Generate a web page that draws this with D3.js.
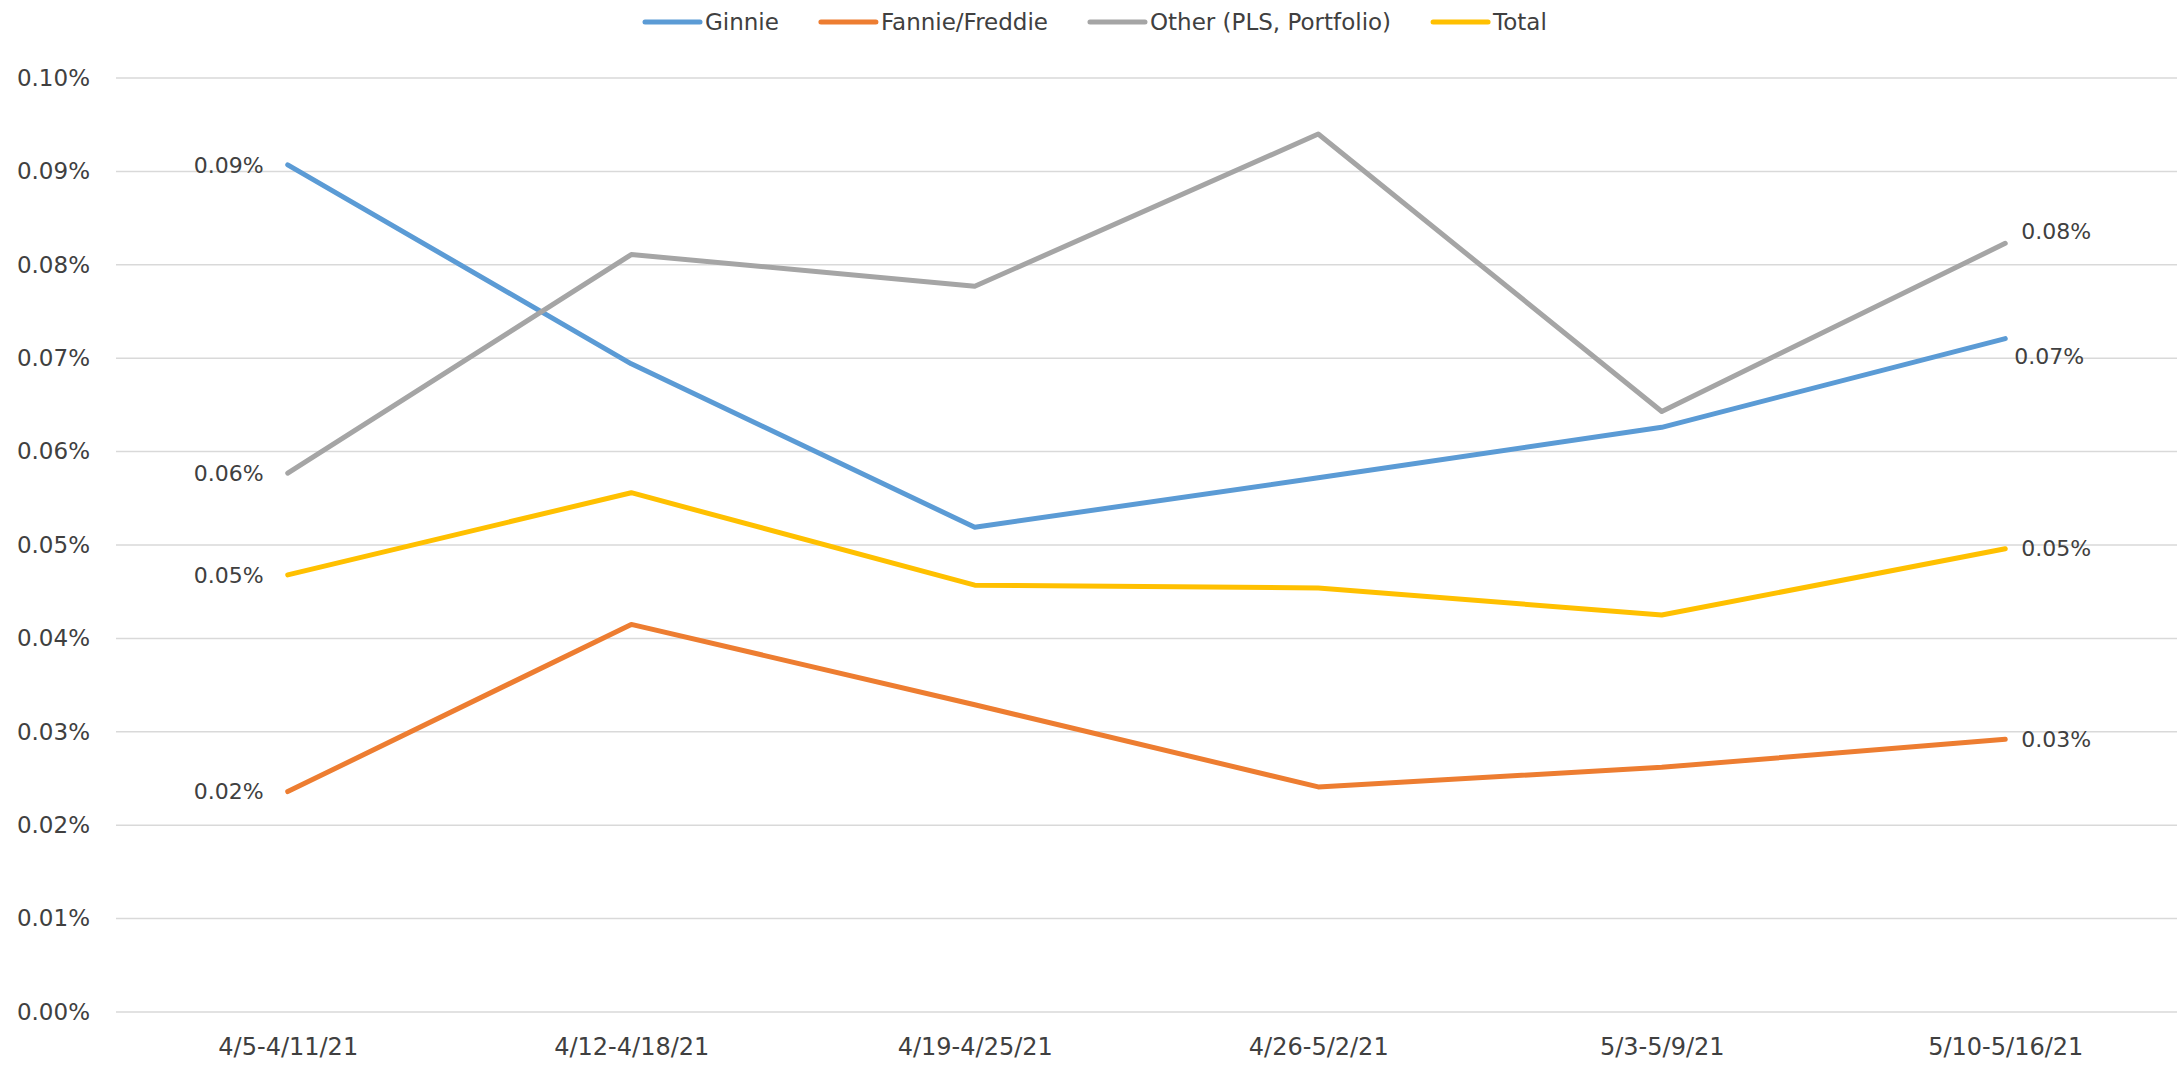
<!DOCTYPE html>
<html>
<head>
<meta charset="utf-8">
<script src="https://cdn.jsdelivr.net/npm/d3@7"></script>
<style>
    html, body { margin: 0; padding: 0; background: #fff; }
    svg text { font-family: "DejaVu Sans", sans-serif; fill: #404040; }
    .grid line { stroke: #d9d9d9; stroke-width: 1.5; }
    .series { fill: none; stroke-width: 5; stroke-linejoin: round; stroke-linecap: round; }
</style>
</head>
<body>
<div id="chart"></div>
<script>
// weeks on the x axis
const weeks = ['4/5-4/11/21', '4/12-4/18/21', '4/19-4/25/21', '4/26-5/2/21', '5/3-5/9/21', '5/10-5/16/21'];

// values in percent
const ginnie = [0.0907, 0.0694, 0.0519, 0.0572, 0.0626, 0.0721];
const fannieFreddie = [0.0236, 0.0415, 0.0329, 0.0241, 0.0262, 0.0292];
const other = [0.0577, 0.0811, 0.0777, 0.0940, 0.0643, 0.0823];
const total = [0.0468, 0.0556, 0.0457, 0.0454, 0.0425, 0.0496];

const yTicks = [0, 0.01, 0.02, 0.03, 0.04, 0.05, 0.06, 0.07, 0.08, 0.09, 0.10];

const seriesNames = ['Ginnie', 'Fannie/Freddie', 'Other (PLS, Portfolio)', 'Total'];
const seriesValues = [ginnie, fannieFreddie, other, total];
const colors = ['#5b9bd5', '#ed7d31', '#a5a5a5', '#ffc000'];

const width = 2178;
const height = 1065;
const margin = { top: 78, right: 1, bottom: 53, left: 116 };

const svg = d3.select('#chart')
    .append('svg')
    .attr('width', width)
    .attr('height', height);

const xScale = d3.scalePoint()
    .domain(weeks)
    .range([margin.left, width - margin.right])
    .padding(0.5);

const yScale = d3.scaleLinear()
    .domain([0, 0.10])
    .range([height - margin.bottom, margin.top]);

// gridlines
svg.append('g')
    .attr('class', 'grid')
    .selectAll('line')
    .data(yTicks)
    .enter()
    .append('line')
    .attr('x1', margin.left)
    .attr('x2', width - margin.right)
    .attr('y1', d => yScale(d))
    .attr('y2', d => yScale(d));

const fmt = d => d3.format('.2f')(d) + '%';

// y axis
const yAxis = d3.axisLeft(yScale)
    .tickValues(yTicks)
    .tickSize(0)
    .tickPadding(26)
    .tickFormat(fmt);

svg.append('g')
    .attr('transform', 'translate(' + margin.left + ',0)')
    .call(yAxis)
    .call(g => g.select('.domain').remove())
    .selectAll('text')
    .style('font-family', '"DejaVu Sans", sans-serif')
    .style('font-size', '23px')
    .attr('fill', '#404040');

// x axis
const xAxis = d3.axisBottom(xScale).tickSize(0).tickPadding(26);

svg.append('g')
    .attr('transform', 'translate(0,' + (height - margin.bottom) + ')')
    .call(xAxis)
    .call(g => g.select('.domain').remove())
    .selectAll('text')
    .style('font-family', '"DejaVu Sans", sans-serif')
    .style('font-size', '24px')
    .attr('fill', '#404040');

// lines
const line = d3.line()
    .x((d, i) => xScale(weeks[i]))
    .y(d => yScale(d));

svg.selectAll('.series')
    .data(seriesValues)
    .enter()
    .append('path')
    .attr('class', 'series')
    .attr('stroke', (d, i) => colors[i])
    .attr('d', d => line(d));

// data labels at the first and last week
const lastIdx = weeks.length - 1;
const rightShift = [18, 0, -12, 0];

seriesValues.forEach((vals, i) => {
    svg.append('text')
        .attr('x', xScale(weeks[0]) - 24)
        .attr('y', yScale(vals[0]))
        .attr('dy', '0.35em')
        .attr('text-anchor', 'end')
        .style('font-size', '22px')
        .text(fmt(vals[0]));

    svg.append('text')
        .attr('x', xScale(weeks[lastIdx]) + (i === 0 ? 9 : 16))
        .attr('y', yScale(vals[lastIdx]) + rightShift[i])
        .attr('dy', '0.35em')
        .attr('text-anchor', 'start')
        .style('font-size', '22px')
        .text(fmt(vals[lastIdx]));
});

// legend
const legend = svg.append('g').attr('transform', 'translate(645,22)');
let legendX = 0;
seriesNames.forEach((name, i) => {
    const item = legend.append('g').attr('transform', 'translate(' + legendX + ',0)');
    item.append('line')
        .attr('x1', 0)
        .attr('x2', 55)
        .attr('stroke', colors[i])
        .attr('stroke-width', 5)
        .attr('stroke-linecap', 'round');
    const label = item.append('text')
        .attr('x', 60)
        .attr('dy', '0.35em')
        .style('font-size', '23px')
        .text(name);
    legendX += 60 + label.node().getComputedTextLength() + 42;
});
</script>
</body>
</html>
